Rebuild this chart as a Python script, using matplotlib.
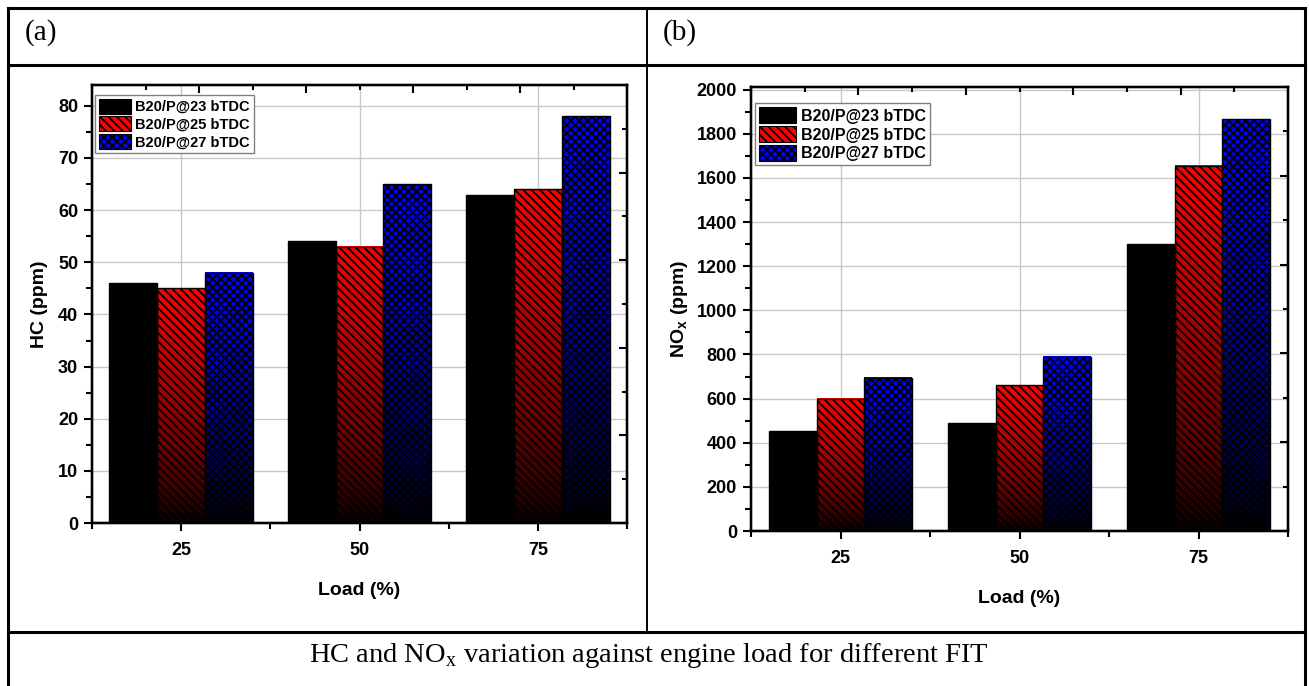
import numpy as np
import matplotlib
matplotlib.use("Agg")
import matplotlib.pyplot as plt
import matplotlib.colors as mcolors
from matplotlib.lines import Line2D
from matplotlib.patches import Patch
from matplotlib.ticker import MultipleLocator, FixedLocator, NullFormatter

plt.rcParams['font.family'] = ['Liberation Sans', 'DejaVu Sans']
plt.rcParams['mathtext.fontset'] = 'custom'
plt.rcParams['mathtext.rm'] = 'Liberation Serif'
plt.rcParams['mathtext.bf'] = 'Liberation Sans:bold'
plt.rcParams['hatch.linewidth'] = 1.3

# ---------------- data ----------------
loads = [25, 50, 75]
series = ["B20/P@23 bTDC", "B20/P@25 bTDC", "B20/P@27 bTDC"]
hc_23 = [46, 54, 63]
hc_25 = [45, 53, 64]
hc_27 = [48, 65, 78]
nox_23 = [455, 490, 1300]
nox_25 = [600, 660, 1655]
nox_27 = [695, 790, 1865]

colors = ["black", "#ff0000", "#0000ff"]
hatches = [None, "\\\\\\\\", "xxxx"]

W, H = 1309, 686
fig = plt.figure(figsize=(W / 100, H / 100), dpi=100)


def px(x0, y0, x1, y1):
    # pixel box -> figure fraction rect
    return [x0 / W, 1 - y1 / H, (x1 - x0) / W, (y1 - y0) / H]


def grad_bar(ax, x, h, w, color, hatch):
    if color == "black":
        ax.bar(x, h, w, facecolor="black", edgecolor="black", linewidth=1, zorder=3)
        return
    rgb = np.array(mcolors.to_rgb(color))
    t = np.linspace(0, 1, 200)[:, None, None] ** 0.75
    img = t * rgb[None, None, :]
    ax.imshow(img, extent=[x - w / 2, x + w / 2, 0, h], origin="lower",
              aspect="auto", zorder=2, interpolation="bilinear")
    ax.bar(x, h, w, facecolor="none", edgecolor="black", hatch=hatch,
           linewidth=1, zorder=3)


def panel(rect, data, ylim, ymajor, yminor, ylabel, ylpad, leg_anchor, leg_fs, hl):
    ax = fig.add_axes(rect)
    width = 6.7
    for i, vals in enumerate(data):
        for x, v in zip(loads, vals):
            grad_bar(ax, x + (i - 1) * width, v, width, colors[i], hatches[i])
    ax.set_xlim(12.5, 87.5)
    ax.set_ylim(*ylim)
    ax.set_xticks(loads)
    ax.xaxis.set_minor_locator(FixedLocator([12.5, 37.5, 62.5, 87.5]))
    ax.yaxis.set_major_locator(MultipleLocator(ymajor))
    ax.yaxis.set_minor_locator(MultipleLocator(yminor))
    ax.grid(True, which="major", color="#c8c8c8", linewidth=1, zorder=0)
    ax.set_axisbelow(True)
    ax.tick_params(which="major", direction="out", length=6, width=1.5,
                   labelsize=13, pad=4)
    ax.tick_params(axis="x", which="major", pad=8)
    ax.tick_params(which="minor", direction="out", length=4, width=1.5)
    for lab in ax.get_xticklabels() + ax.get_yticklabels():
        lab.set_fontweight("bold")
    for s in ax.spines.values():
        s.set_linewidth(1.6)
    ax.set_xlabel("Load (%)", fontsize=14, fontweight="bold", labelpad=16)
    ax.set_ylabel(ylabel, fontsize=14, fontweight="bold", labelpad=ylpad)

    # mirrored ticks on top / right (inside, axis fractions)
    axt = ax.twiny()
    axt.set_xlim(0, 1)
    axt.xaxis.set_major_locator(FixedLocator([0.2, 0.4, 0.6, 0.8]))
    axt.xaxis.set_minor_locator(FixedLocator([0.1, 0.3, 0.5, 0.7, 0.9]))
    axt.xaxis.set_major_formatter(NullFormatter())
    axt.tick_params(which="major", direction="in", length=6, width=1.5)
    axt.tick_params(which="minor", direction="in", length=3.5, width=1.5)
    axr = ax.twinx()
    axr.set_ylim(0, 1)
    axr.yaxis.set_major_locator(FixedLocator([0.2, 0.4, 0.6, 0.8]))
    axr.yaxis.set_minor_locator(FixedLocator([0.1, 0.3, 0.5, 0.7, 0.9]))
    axr.yaxis.set_major_formatter(NullFormatter())
    axr.tick_params(which="major", direction="in", length=6, width=1.5)
    axr.tick_params(which="minor", direction="in", length=3.5, width=1.5)
    for a in (axt, axr):
        for s in a.spines.values():
            s.set_linewidth(1.6)

    handles = [Patch(facecolor=c, edgecolor="black", hatch=h, linewidth=0.8)
               for c, h in zip(colors, hatches)]
    leg = axr.legend(handles, series, loc="upper left", bbox_to_anchor=leg_anchor,
                     borderaxespad=0, fancybox=False, framealpha=1,
                     edgecolor="#808080", handlelength=hl,
                     handleheight=1.2, labelspacing=0.15, handletextpad=0.3,
                     borderpad=0.25, prop={"weight": "bold", "size": leg_fs})
    leg.get_frame().set_linewidth(1)
    return ax


panel(px(92, 85, 627, 523), [hc_23, hc_25, hc_27], (0, 84), 10, 5,
      "HC (ppm)", 7, (0.006, 0.977), 10.5, 2.2)
panel(px(751, 87, 1288, 531), [nox_23, nox_25, nox_27], (0, 2012), 200, 100,
      r"NO$_{\mathbf{x}}$ (ppm)", 5, (0.008, 0.964), 11.5, 2.3)

# table frame
def fline(xs, ys, lw):
    fig.add_artist(Line2D([x / W for x in xs], [1 - y / H for y in ys],
                          color="black", linewidth=lw))

fline([8, 8], [8, 686], 2.2)
fline([1305, 1305], [8, 686], 2.2)
fline([8, 1305], [8, 8], 2.2)
fline([8, 1305], [65, 65], 2.2)
fline([8, 1305], [632, 632], 2.2)
fline([647, 647], [8, 632], 1.4)

fig.text(25 / W, 1 - 33 / H, "(a)", fontsize=21, family="Liberation Serif", va="center")
fig.text(663 / W, 1 - 33 / H, "(b)", fontsize=21, family="Liberation Serif", va="center")
fig.text(649 / W, 1 - 655 / H, r"HC and NO$_{\mathrm{x}}$ variation against engine load for different FIT",
         fontsize=20.5, family="Liberation Serif", ha="center", va="center")

fig.savefig("out.png", dpi=100)
